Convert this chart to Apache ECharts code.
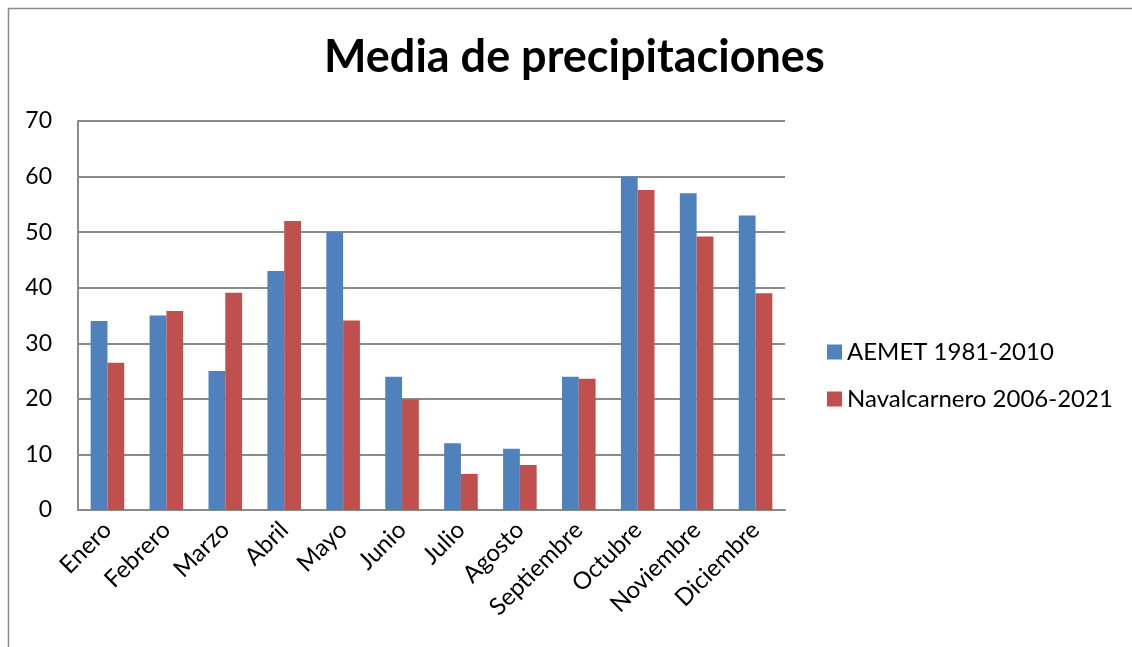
<!DOCTYPE html>
<html>
<head>
<meta charset="utf-8">
<script src="https://cdn.jsdelivr.net/npm/echarts@6/dist/echarts.min.js"></script>
<style>html,body{margin:0;padding:0;background:#fff}#c{width:1132px;height:647px}</style>
</head>
<body>
<div id="c"></div>
<script>
const months = ['Enero','Febrero','Marzo','Abril','Mayo','Junio','Julio','Agosto','Septiembre','Octubre','Noviembre','Diciembre'];
const aemet = [34, 35, 25, 43, 50, 24, 12, 11, 24, 60, 57, 53];
const navalcarnero = [26.5, 35.8, 39.1, 52, 34.1, 19.9, 6.5, 8.1, 23.6, 57.6, 49.2, 39];
const seriesNames = ['AEMET 1981-2010', 'Navalcarnero 2006-2021'];
const yTicks = {min: 0, max: 70, interval: 10};

const font = 'Lato, "Open Sans", sans-serif';
const chart = echarts.init(document.getElementById('c'), null, {renderer: 'canvas'});
chart.setOption({
  animation: false,
  backgroundColor: '#fff',
  graphic: [{
    type: 'rect', shape: {x: 8.5, y: 8.5, width: 1200, height: 700},
    style: {fill: 'none', stroke: '#8a8a8a', lineWidth: 1.5}, silent: true, z: 0
  }],
  title: {
    text: 'Media de precipitaciones', left: 319, top: 30,
    textStyle: {fontFamily: font, fontWeight: 'bold', fontSize: 45, color: '#000'}
  },
  legend: {
    orient: 'vertical', left: 822, top: 335, itemGap: 23,
    itemWidth: 15, itemHeight: 15, icon: 'rect',
    textStyle: {fontFamily: font, fontSize: 24, color: '#000'},
    data: seriesNames
  },
  grid: {left: 78, right: 347, top: 121, bottom: 137, containLabel: false},
  xAxis: {
    type: 'category', data: months,
    axisLine: {lineStyle: {color: '#8a8a8a', width: 2}},
    axisTick: {show: false},
    axisLabel: {rotate: 45, fontFamily: font, fontSize: 24, color: '#000', margin: 16, interval: 0}
  },
  yAxis: {
    type: 'value', min: yTicks.min, max: yTicks.max, interval: yTicks.interval,
    axisLine: {show: true, lineStyle: {color: '#8a8a8a', width: 2}},
    axisTick: {show: false},
    splitLine: {lineStyle: {color: '#8a8a8a', width: 2}},
    axisLabel: {fontFamily: font, fontSize: 23, color: '#000', margin: 26}
  },
  series: [
    {name: seriesNames[0], type: 'bar', data: aemet, barGap: '0%', barCategoryGap: '43%',
     itemStyle: {color: '#4F81BD'}},
    {name: seriesNames[1], type: 'bar', data: navalcarnero, barGap: '0%', barCategoryGap: '43%',
     itemStyle: {color: '#C0504D'}}
  ]
});
</script>
</body>
</html>
